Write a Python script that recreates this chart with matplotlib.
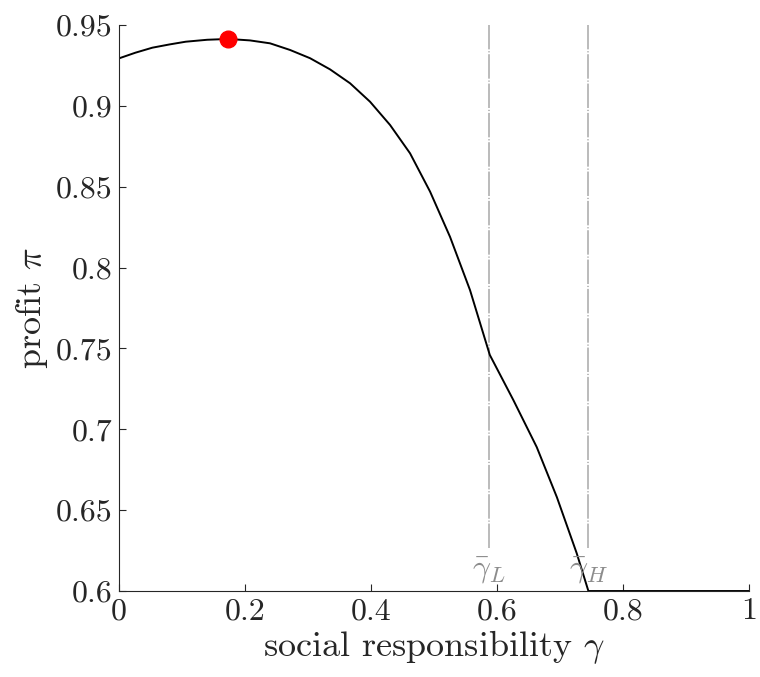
import numpy as np
import matplotlib
matplotlib.use('Agg')
import matplotlib.pyplot as plt
from matplotlib.ticker import FuncFormatter

plt.rcParams['font.family'] = 'serif'
plt.rcParams['font.serif'] = ['cmr10']
plt.rcParams['mathtext.fontset'] = 'cm'
plt.rcParams['axes.formatter.use_mathtext'] = True

# profit curve
gamma = [0.0, 0.026, 0.0529, 0.08, 0.1059, 0.14, 0.1735, 0.2079, 0.2397, 0.2714,
         0.3032, 0.3349, 0.3667, 0.3984, 0.4302, 0.4619, 0.4937, 0.5254, 0.5571, 0.5885,
         0.626, 0.663, 0.695, 0.7265, 0.745, 1.0]
profit = [0.9294, 0.9329, 0.9360, 0.9380, 0.9397, 0.9409, 0.9414, 0.9405, 0.9387, 0.9346,
          0.9295, 0.9226, 0.9140, 0.9026, 0.8882, 0.8707, 0.8470, 0.8190, 0.7861, 0.7460,
          0.718, 0.689, 0.658, 0.6233, 0.600, 0.600]

opt_gamma = 0.1735
opt_profit = 0.9414

thresholds = [0.588, 0.745]
threshold_labels = [r'$\bar{\gamma}_L$', r'$\bar{\gamma}_H$']

xticks = [0, 0.2, 0.4, 0.6, 0.8, 1]
yticks = [0.6, 0.65, 0.7, 0.75, 0.8, 0.85, 0.9, 0.95]

fig = plt.figure(figsize=(7.6, 6.77), dpi=100)
ax = fig.add_axes([0.1566, 0.127, 0.829, 0.836])

grey = '#a8a8a8'
for g, lab in zip(thresholds, threshold_labels):
    ax.plot([g, g], [0.6266, 0.95], color=grey, linewidth=1.1,
            linestyle=(0, (16, 1.2, 0.8, 1.2)))
    ax.text(g, 0.6125, lab, color='#8c8c8c', fontsize=23, ha='center', va='center')

ax.plot(gamma, profit, color='black', linewidth=1.4)
ax.plot(opt_gamma, opt_profit, 'o', color='red', markersize=12)

ax.set_xlim(0, 1)
ax.set_ylim(0.6, 0.95)
ax.set_xticks(xticks)
ax.set_yticks(yticks)
fmt = FuncFormatter(lambda v, p: '%g' % v)
ax.xaxis.set_major_formatter(fmt)
ax.yaxis.set_major_formatter(fmt)
ax.tick_params(direction='in', length=5, width=0.8, labelsize=23, colors='#262626')
ax.tick_params(axis='x', pad=5)
ax.tick_params(axis='y', pad=5)
for s in ['top', 'right']:
    ax.spines[s].set_visible(False)
for s in ['left', 'bottom']:
    ax.spines[s].set_color('#262626')
    ax.spines[s].set_linewidth(0.8)

ax.set_xlabel(r'social responsibility $\gamma$', fontsize=26, color='#262626', labelpad=2)
ax.set_ylabel(r'profit $\pi$', fontsize=26, color='#262626', labelpad=4)

fig.savefig('out.png', dpi=100)
